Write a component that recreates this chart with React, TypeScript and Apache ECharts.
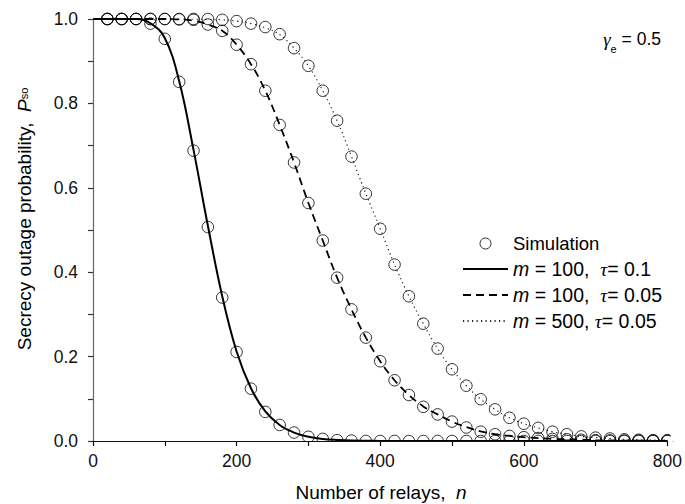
import React, { useEffect, useRef } from "react";
import * as echarts from "echarts";

// Number of relays n for the analytical curves (0..800, step 20)
const relaysTheory = [
  0, 20, 40, 60, 80, 100, 120, 140, 160, 180, 200, 220, 240, 260, 280, 300, 320, 340, 360, 380, 400,
  420, 440, 460, 480, 500, 520, 540, 560, 580, 600, 620, 640, 660, 680, 700, 720, 740, 760, 780, 800,
];

// Analytical secrecy outage probability
const theoryM100Tau01 = [
  1, 1, 1, 1, 0.99, 0.955, 0.853, 0.69, 0.51, 0.343, 0.212, 0.125, 0.07, 0.038, 0.02, 0.01, 0.005, 0.0025, 0.001, 0.0005, 0.0002,
  0, 0, 0, 0, 0, 0, 0, 0, 0, 0, 0, 0, 0, 0, 0, 0, 0, 0, 0, 0,
];
const theoryM100Tau005 = [
  1, 1, 1, 1, 1, 1, 0.999, 0.996, 0.987, 0.972, 0.939, 0.893, 0.83, 0.749, 0.66, 0.564, 0.475, 0.387, 0.312, 0.245, 0.189,
  0.144, 0.109, 0.082, 0.063, 0.046, 0.033, 0.023, 0.016, 0.012, 0.009, 0.007, 0.005, 0.004, 0.003, 0.002, 0.0015, 0.001, 0.001, 0.0005, 0.0005,
];
const theoryM500Tau005 = [
  1, 1, 1, 1, 1, 1, 1, 1, 0.999, 0.998, 0.995, 0.989, 0.979, 0.963, 0.931, 0.889, 0.83, 0.759, 0.674, 0.586, 0.503,
  0.418, 0.343, 0.278, 0.219, 0.17, 0.131, 0.099, 0.075, 0.055, 0.041, 0.031, 0.022, 0.016, 0.011, 0.008, 0.006, 0.004, 0.003, 0.002, 0.002,
];

// Monte-Carlo simulation points (n = 20..800, step 20)
const relaysSim = [
  20, 40, 60, 80, 100, 120, 140, 160, 180, 200, 220, 240, 260, 280, 300, 320, 340, 360, 380, 400,
  420, 440, 460, 480, 500, 520, 540, 560, 580, 600, 620, 640, 660, 680, 700, 720, 740, 760, 780, 800,
];
const simM100Tau01 = [
  1, 1, 1, 0.989, 0.953, 0.851, 0.688, 0.507, 0.34, 0.211, 0.124, 0.069, 0.038, 0.02, 0.01, 0.005, 0.002, 0.001, 0, 0,
  0, 0, 0, 0, 0, 0, 0, 0, 0, 0, 0, 0, 0, 0, 0, 0, 0, 0, 0, 0,
];
const simM100Tau005 = [
  1, 1, 1, 1, 1, 0.999, 0.998, 0.987, 0.972, 0.939, 0.893, 0.83, 0.749, 0.66, 0.564, 0.475, 0.387, 0.312, 0.245, 0.189,
  0.144, 0.109, 0.081, 0.063, 0.046, 0.032, 0.022, 0.016, 0.012, 0.009, 0.007, 0.005, 0.004, 0.003, 0.002, 0.0015, 0.001, 0.001, 0.0005, 0.0005,
];
const simM500Tau005 = [
  1, 1, 1, 1, 1, 1, 1, 1, 0.998, 0.995, 0.989, 0.981, 0.964, 0.931, 0.889, 0.83, 0.759, 0.674, 0.586, 0.503,
  0.418, 0.343, 0.278, 0.219, 0.17, 0.131, 0.099, 0.075, 0.055, 0.041, 0.031, 0.022, 0.016, 0.011, 0.008, 0.006, 0.004, 0.003, 0.002, 0.002,
];

const xTicks = [0, 200, 400, 600, 800];
const yTicks = [0, 0.2, 0.4, 0.6, 0.8, 1.0];

const SANS = "'Liberation Sans', Arial, sans-serif";
const SERIF = "'Liberation Serif', 'DejaVu Serif', serif";

const NAME_SIM = "Simulation";
const NAME_A = "m = 100, τ = 0.1";
const NAME_B = "m = 100, τ = 0.05";
const NAME_C = "m = 500, τ = 0.05";

const legendRich: Record<string, string> = {
  [NAME_SIM]: "{s|Simulation}",
  [NAME_A]: "{i|m}{r| = 100,  }{t|τ}{r|= 0.1}",
  [NAME_B]: "{i|m}{r| = 100,  }{t|τ}{r|= 0.05}",
  [NAME_C]: "{i|m}{r| = 500, }{t|τ}{r|= 0.05}",
};

const zip = (xs: number[], ys: number[]) => xs.map((x, i) => [x, ys[i]]);

export default function App() {
  const ref = useRef<HTMLDivElement>(null);

  useEffect(() => {
    document.body.style.margin = "0";
    if (!ref.current) return;
    const chart = echarts.init(ref.current, undefined, { renderer: "svg" });

    const grid = { left: 93, right: 15, top: 19, bottom: 63 };

    const simPoints = [
      ...zip(relaysSim, simM100Tau01),
      ...zip(relaysSim, simM100Tau005),
      ...zip(relaysSim, simM500Tau005),
    ];

    const lineBase = {
      type: "line" as const,
      showSymbol: false,
      symbol: "none",
      smooth: 0.4,
      clip: true,
      z: 3,
    };

    // line entries in the legend: stroke only, no marker
    const hiddenMarker = { opacity: 0, color: "rgba(0,0,0,0)", borderWidth: 0 };
    const FS_LEGEND = 19.5;
    const FS_TICK = 17.5;

    chart.setOption({
      animation: false,
      backgroundColor: "#fff",
      grid: { ...grid, containLabel: false },
      xAxis: {
        type: "value",
        min: 0,
        max: 800,
        interval: 200,
        z: 100,
        axisLine: { show: true, onZero: false, lineStyle: { color: "#111", width: 1.2 } },
        axisTick: { show: true, inside: false, length: 5, lineStyle: { color: "#111", width: 1.2 } },
        minorTick: { show: true, splitNumber: 2, length: 5, lineStyle: { color: "#111", width: 1.2 } },
        splitLine: { show: false },
        axisLabel: {
          color: "#111",
          fontFamily: SANS,
          fontSize: FS_TICK,
          margin: 11,
          formatter: (v: number) => (xTicks.includes(v) ? String(v) : ""),
        },
      },
      yAxis: {
        type: "value",
        min: 0,
        max: 1,
        interval: 0.2,
        axisLine: { show: true, onZero: false, lineStyle: { color: "#666", width: 1.2 } },
        axisTick: { show: true, inside: false, length: 5, lineStyle: { color: "#333", width: 1.2 } },
        minorTick: { show: true, splitNumber: 2, length: 5, lineStyle: { color: "#333", width: 1.2 } },
        splitLine: { show: false },
        axisLabel: {
          color: "#111",
          fontFamily: SANS,
          fontSize: FS_TICK,
          margin: 15,
          formatter: (v: number) =>
            yTicks.some((t) => Math.abs(t - v) < 1e-9) ? v.toFixed(1) : "",
        },
      },
      legend: {
        orient: "vertical",
        left: 462,
        top: 234,
        padding: 0,
        itemWidth: 45,
        itemHeight: 11,
        itemGap: 6,
        align: "left",
        selectedMode: false,
        formatter: (name: string) => legendRich[name] ?? name,
        textStyle: {
          color: "#000",
          fontFamily: SANS,
          fontSize: FS_LEGEND,
          lineHeight: 18,
          rich: {
            s: { fontFamily: SANS, fontSize: 18.5, color: "#000" },
            r: { fontFamily: SANS, fontSize: FS_LEGEND, color: "#000" },
            i: { fontFamily: SANS, fontSize: FS_LEGEND, fontStyle: "italic", color: "#000" },
            t: { fontFamily: SERIF, fontSize: FS_LEGEND, fontStyle: "italic", color: "#000" },
          },
        },
        data: [
          {
            name: NAME_SIM,
            icon: "circle",
            itemStyle: { color: "rgba(0,0,0,0)", borderColor: "#000", borderWidth: 1 },
          },
          { name: NAME_A, itemStyle: hiddenMarker },
          { name: NAME_B, itemStyle: hiddenMarker },
          { name: NAME_C, itemStyle: hiddenMarker },
        ],
      },
      series: [
        {
          name: NAME_SIM,
          type: "scatter",
          data: simPoints,
          symbol: "circle",
          symbolSize: 11.5,
          itemStyle: { color: "rgba(0,0,0,0)", borderColor: "#000", borderWidth: 1 },
          z: 4,
        },
        {
          ...lineBase,
          name: NAME_A,
          data: zip(relaysTheory, theoryM100Tau01),
          lineStyle: { color: "#000", width: 2, type: "solid" },
          itemStyle: { color: "#000" },
        },
        {
          ...lineBase,
          name: NAME_B,
          data: zip(relaysTheory, theoryM100Tau005),
          lineStyle: { color: "#000", width: 1.8, type: [8, 5] },
          itemStyle: { color: "#000" },
        },
        {
          ...lineBase,
          name: NAME_C,
          data: zip(relaysTheory, theoryM500Tau005),
          lineStyle: { color: "#222", width: 1.2, type: [1.2, 3.3] },
          itemStyle: { color: "#222" },
        },
      ],
      graphic: [
        // mask marker halves that fall outside the plotting frame
        {
          type: "rect",
          z: 50,
          silent: true,
          shape: { x: 93.8, y: 441.6, width: 600, height: 9 },
          style: { fill: "#fff" },
        },
        {
          type: "rect",
          z: 50,
          silent: true,
          shape: { x: 670.6, y: 0, width: 20, height: 441.6 },
          style: { fill: "#fff" },
        },
        {
          type: "text",
          z: 60,
          x: 661,
          y: 42,
          style: {
            text: "{g|γ}{e|e}{r| = 0.5}",
            align: "right",
            verticalAlign: "middle",
            rich: {
              g: { fontFamily: SERIF, fontStyle: "italic", fontSize: 19, fill: "#000", verticalAlign: "top", lineHeight: 25 },
              e: { fontFamily: SANS, fontSize: 11, fill: "#000", verticalAlign: "bottom", lineHeight: 25 },
              r: { fontFamily: SANS, fontSize: 17.5, fill: "#000", verticalAlign: "top", lineHeight: 25 },
            },
          },
        },
        {
          type: "text",
          z: 60,
          x: 381,
          y: 492,
          style: {
            text: "{r|Number of relays,  }{i|n}",
            align: "center",
            verticalAlign: "middle",
            rich: {
              r: { fontFamily: SANS, fontSize: 19, fill: "#000" },
              i: { fontFamily: SANS, fontSize: 19, fontStyle: "italic", fill: "#000" },
            },
          },
        },
        {
          type: "text",
          z: 60,
          x: 24,
          y: 219,
          rotation: Math.PI / 2,
          style: {
            text: "{r|Secrecy outage probability,  }{i|P}{s|so}",
            align: "center",
            verticalAlign: "middle",
            rich: {
              r: { fontFamily: SANS, fontSize: 19, fill: "#000" },
              i: { fontFamily: SANS, fontSize: 19, fontStyle: "italic", fill: "#000" },
              s: { fontFamily: SANS, fontSize: 11, fill: "#000" },
            },
          },
        },
      ],
    });

    return () => chart.dispose();
  }, []);

  return <div ref={ref} style={{ width: 685, height: 504 }} />;
}
